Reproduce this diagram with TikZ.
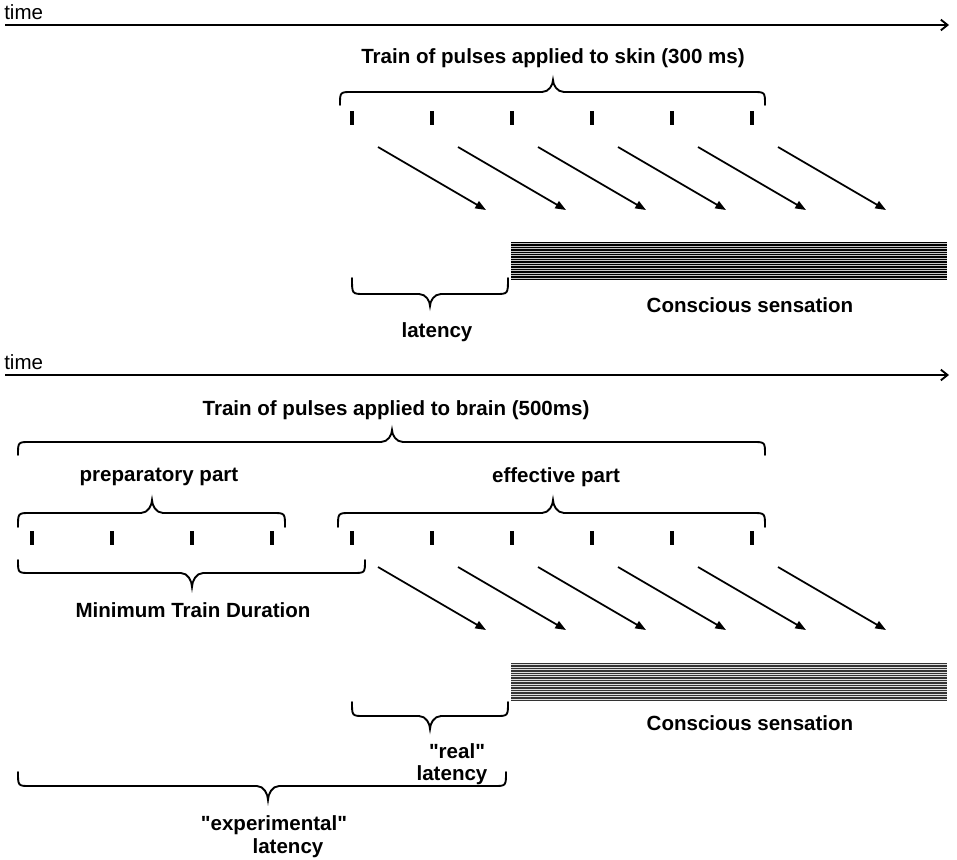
\documentclass[tikz,border=0pt]{standalone}
\usepackage{fontspec}
\setmainfont{Liberation Sans}
\usetikzlibrary{arrows.meta}
\tikzset{
  lbl/.style={inner sep=0pt, font=\fontsize{15.4}{18}\selectfont\bfseries},
  reg/.style={inner sep=0pt, font=\fontsize{15.4}{18}\selectfont},
  timeline/.style={line width=1.4pt, -{Straight Barb[length=5pt,width=8pt,line width=1.4pt]}},
  bracestyle/.style={line width=1.4pt, line cap=round},
  pulse/.style={line width=2.6pt},
  signal/.style={line width=1.3pt, -{Triangle[length=8pt,width=6pt]}},
  hatch/.style={line width=1.1pt},
}
\newcommand\mybrace[6]{% x1<x2, xm, y of ends, y of bar, y of tip
  \draw[bracestyle] (#1,#4) .. controls (#1,#5) .. ({#1+12},#5) -- ({#3-11},#5)
    .. controls ({#3-4},#5) and (#3,{#5+0.6*(#6-#5)}) .. (#3,#6)
    .. controls (#3,{#5+0.6*(#6-#5)}) and ({#3+4},#5) .. ({#3+11},#5)
    -- ({#2-12},#5) .. controls (#2,#5) .. (#2,#4);}
\begin{document}
\begin{tikzpicture}[x=0.75pt,y=-0.75pt]
\useasboundingbox (0,0) rectangle (957,860);
% ---------------- top panel ----------------
\node[reg,anchor=west] (time1) at (4,12) {time};
\coordinate (tl1) at (5,25);
\coordinate (tr1) at (949,25);
\draw[timeline] (tl1) -- (tr1);
\node[lbl] (title1) at (553,58) {Train of pulses applied to skin (300 ms)};
\mybrace{340}{765}{553}{105}{92}{80}
\foreach \k in {0,...,5}{
  \draw[pulse] ({352+80*\k},111) -- ({352+80*\k},125);
  \coordinate (as\k) at ({378+80*\k},147);
  \coordinate (ae\k) at ({486+80*\k},210);
  \draw[signal] (as\k) -- (ae\k);
}
\fill[gray!45] (511,242) rectangle (947,280);
\foreach \i in {0,...,15}{
  \draw[hatch] (511,{242.5+2.45*\i}) -- (947,{242.5+2.45*\i});
}
\mybrace{352}{508}{430}{278}{294}{306}
\node[lbl] (lat1) at (437,332) {latency};
\node[lbl] (cs1) at (750,305) {Conscious sensation};
% ---------------- bottom panel ----------------
\node[reg,anchor=west] (time2) at (4,362) {time};
\coordinate (tl2) at (5,375);
\coordinate (tr2) at (949,375);
\draw[timeline] (tl2) -- (tr2);
\node[lbl] (title2) at (396,410) {Train of pulses applied to brain (500ms)};
\mybrace{18}{765}{392}{455}{442}{430}
\node[lbl] (prep) at (159,477) {preparatory part};
\mybrace{18}{285}{152}{527}{513}{500}
\node[lbl] (eff) at (556,477) {effective part};
\mybrace{338}{765}{553}{527}{513}{500}
\foreach \k in {0,...,9}{
  \draw[pulse] ({32+80*\k},531) -- ({32+80*\k},545);
}
\mybrace{18}{365}{192}{560}{573}{587}
\node[lbl] (mtd) at (193,610) {Minimum Train Duration};
\foreach \k in {0,...,5}{
  \coordinate (bs\k) at ({378+80*\k},567);
  \coordinate (be\k) at ({486+80*\k},630);
  \draw[signal] (bs\k) -- (be\k);
}
\fill[gray!25] (511,663) rectangle (947,701);
\foreach \i in {0,...,15}{
  \draw[hatch,black!80] (511,{663.5+2.45*\i}) -- (947,{663.5+2.45*\i});
}
\mybrace{352}{508}{430}{702}{716}{729}
\node[lbl] (cs2) at (750,723) {Conscious sensation};
\node[lbl] (real) at (457,751) {\textquotedbl real\textquotedbl};
\node[lbl] (lat2) at (452,775) {latency};
\mybrace{18}{506}{268}{772}{786}{800}
\node[lbl] (exper) at (274,825) {\textquotedbl experimental\textquotedbl};
\node[lbl] (lat3) at (288,848) {latency};
\end{tikzpicture}
\end{document}
